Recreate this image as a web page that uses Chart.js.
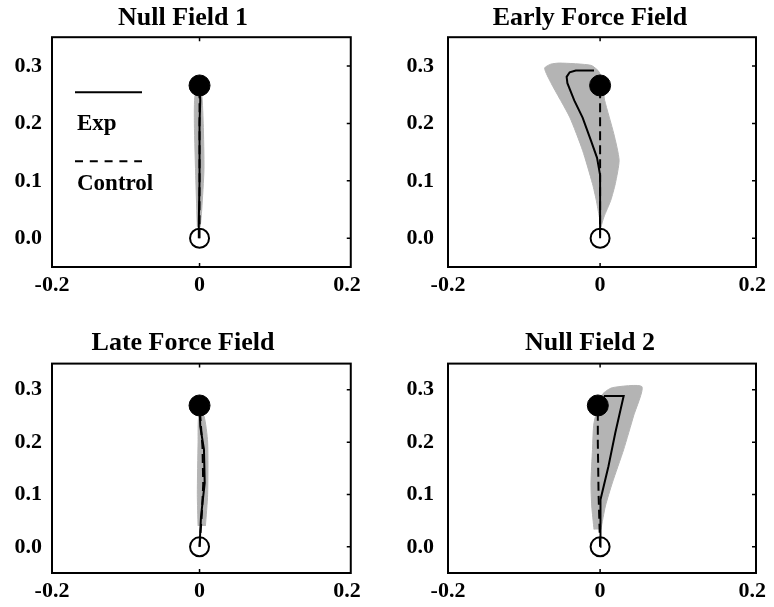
<!DOCTYPE html>
<html>
<head>
<meta charset="utf-8">
<script src="https://cdn.jsdelivr.net/npm/chart.js@4.4.1/dist/chart.umd.min.js"></script>
<style>
  html, body { margin: 0; padding: 0; background: #fff; overflow: hidden; width: 774px; height: 607px; }
  canvas { position: absolute; }
</style>
</head>
<body>
<canvas id="c0" width="366" height="300" style="left:0px;top:0px"></canvas>
<canvas id="c1" width="406" height="300" style="left:387px;top:0px"></canvas>
<canvas id="c2" width="366" height="282" style="left:0px;top:325px"></canvas>
<canvas id="c3" width="406" height="282" style="left:387px;top:325px"></canvas>
<script>
/* Datos */
const panelTitles = ["Null Field 1", "Early Force Field", "Late Force Field", "Null Field 2"];
const seriesLabels = ["Exp", "Control"];
const xTicks = [-0.2, 0, 0.2];
const yTicks = [0, 0.1, 0.2, 0.3];
const xRange = [-0.2, 0.205];
const yRange = [-0.05, 0.35];

// punto de inicio (círculo vacío) y objetivo (círculo lleno)
const startPoints = [[0, 0], [0, 0], [0, 0], [0, 0]];
const targetPoints = [[0, 0.266], [0, 0.266], [0, 0.27], [-0.003, 0.27]];

// Null Field 1
const nf1Exp = [[-0.001, 0], [-0.001, 0.03], [0, 0.1], [0, 0.2], [0.001, 0.24], [0, 0.266]];
const nf1Control = [[0, 0], [0, 0.266]];
const nf1Band = [[-0.003, 0.02], [-0.005, 0.1], [-0.007, 0.2], [-0.006, 0.25], [0.002, 0.26],
  [0.005, 0.2], [0.006, 0.12], [0.003, 0.05], [0.001, 0.02]];

// Early Force Field
const efExp = [[0, 0.005], [0, 0.06], [0, 0.11], [-0.004, 0.14], [-0.012, 0.17], [-0.023, 0.21],
  [-0.034, 0.24], [-0.043, 0.27], [-0.044, 0.281], [-0.04, 0.289], [-0.032, 0.292], [-0.008, 0.292]];
const efControl = [[0, 0], [0, 0.266]];
const efBand = [[-0.001, 0.037], [-0.005, 0.066], [-0.01, 0.095], [-0.023, 0.153], [-0.04, 0.211],
  [-0.064, 0.269], [-0.073, 0.296], [-0.065, 0.303], [-0.053, 0.305], [-0.012, 0.301],
  [-0.001, 0.289], [0.004, 0.26], [0.006, 0.24], [0.018, 0.182], [0.025, 0.136],
  [0.02, 0.095], [0.014, 0.066], [0.005, 0.037], [0.001, 0.019]];

// Late Force Field
const lfExp = [[0, 0], [0.001, 0.03], [0.002, 0.058], [0.007, 0.122], [0.006, 0.186], [0.001, 0.23], [0, 0.27]];
const lfControl = [[0, 0], [0.003, 0.06], [0.005, 0.12], [0.004, 0.19], [0, 0.27]];
const lfBand = [[-0.002, 0.04], [-0.003, 0.1], [-0.002, 0.2], [-0.001, 0.25], [0.006, 0.25],
  [0.011, 0.2], [0.011, 0.1], [0.008, 0.04]];

// Null Field 2
const nf2Exp = [[0, 0], [0, 0.03], [0.001, 0.09], [0.011, 0.154], [0.02, 0.218], [0.03, 0.282],
  [0.031, 0.288], [0.005, 0.288]];
const nf2Control = [[0, 0], [-0.002, 0.1], [-0.003, 0.2], [-0.003, 0.27]];
const nf2Band = [[-0.008, 0.033], [-0.011, 0.078], [-0.012, 0.122], [-0.01, 0.186], [-0.008, 0.237],
  [0.003, 0.291], [0.016, 0.304], [0.055, 0.306], [0.044, 0.25], [0.031, 0.186],
  [0.016, 0.122], [0.007, 0.078], [0.001, 0.033]];

const expPaths = [nf1Exp, efExp, lfExp, nf2Exp];
const controlPaths = [nf1Control, efControl, lfControl, nf2Control];
const bands = [nf1Band, efBand, lfBand, nf2Band];

/* Estilo y posición de cada panel */
const panelLayout = [
  { id: "c0", yW: 52, rW: 14, padT: 3, padB: 3, xH: 33, yPad: 10 },
  { id: "c1", yW: 61, rW: 37, padT: 3, padB: 3, xH: 33, yPad: 14 },
  { id: "c2", yW: 52, rW: 14, padT: 3, padB: 4.4, xH: 34, yPad: 10 },
  { id: "c3", yW: 61, rW: 37, padT: 3, padB: 4.4, xH: 34, yPad: 14 }
];

const GRAY = "rgb(180,180,180)";
const toXY = (pts) => pts.map((p) => ({ x: p[0], y: p[1] }));

Chart.defaults.font.family = "'Liberation Serif', 'Times New Roman', serif";
Chart.defaults.color = "#000";

// caja con marcas hacia adentro
const framePlugin = {
  id: "frame",
  afterDraw(chart) {
    const { ctx, chartArea: a, scales } = chart;
    ctx.save();
    ctx.strokeStyle = "#000";
    ctx.lineWidth = 2;
    ctx.strokeRect(a.left, a.top, a.right - a.left, a.bottom - a.top);
    ctx.lineWidth = 1.5;
    ctx.beginPath();
    yTicks.forEach((v) => {
      const y = scales.y.getPixelForValue(v);
      ctx.moveTo(a.right, y);
      ctx.lineTo(a.right - 4, y);
    });
    xTicks.slice(1, -1).forEach((v) => {
      const x = scales.x.getPixelForValue(v);
      ctx.moveTo(x, a.top);
      ctx.lineTo(x, a.top + 4);
      ctx.moveTo(x, a.bottom);
      ctx.lineTo(x, a.bottom - 4);
    });
    ctx.stroke();
    ctx.restore();
  }
};

// leyenda dentro del primer panel
const cornerLegend = {
  id: "cornerLegend",
  afterDraw(chart) {
    const { ctx, chartArea: a } = chart;
    const x0 = a.left + 23;
    const x1 = a.left + 90;
    ctx.save();
    ctx.strokeStyle = "#000";
    ctx.lineWidth = 2;
    ctx.beginPath();
    ctx.moveTo(x0, a.top + 55);
    ctx.lineTo(x1, a.top + 55);
    ctx.stroke();
    ctx.setLineDash([8, 6.8]);
    ctx.beginPath();
    ctx.moveTo(x0, a.top + 124);
    ctx.lineTo(x1, a.top + 124);
    ctx.stroke();
    ctx.setLineDash([]);
    ctx.fillStyle = "#000";
    ctx.font = "bold 23px 'Liberation Serif'";
    ctx.textBaseline = "alphabetic";
    ctx.fillText(seriesLabels[0], a.left + 25, a.top + 93);
    ctx.fillText(seriesLabels[1], a.left + 25, a.top + 153);
    ctx.restore();
  }
};

function makePanel(i) {
  const lay = panelLayout[i];
  const ctx = document.getElementById(lay.id).getContext("2d");
  new Chart(ctx, {
    type: "line",
    data: {
      datasets: [
        {
          label: "target",
          data: toXY([targetPoints[i]]),
          showLine: false,
          pointRadius: 10.5,
          pointBackgroundColor: "#000",
          pointBorderColor: "#000",
          pointBorderWidth: 1
        },
        {
          label: "start",
          data: toXY([startPoints[i]]),
          showLine: false,
          pointRadius: 9.5,
          pointBackgroundColor: "rgba(0,0,0,0)",
          pointBorderColor: "#000",
          pointBorderWidth: 2
        },
        {
          label: seriesLabels[0],
          data: toXY(expPaths[i]),
          borderColor: "#000",
          borderWidth: 2,
          pointRadius: 0,
          fill: false
        },
        {
          label: seriesLabels[1],
          data: toXY(controlPaths[i]),
          borderColor: "#000",
          borderWidth: 2,
          borderDash: [9, 5],
          pointRadius: 0,
          fill: false
        },
        {
          label: "band",
          data: toXY(bands[i]),
          borderColor: GRAY,
          borderWidth: 1,
          backgroundColor: GRAY,
          pointRadius: 0,
          tension: 0.2,
          fill: "shape"
        }
      ]
    },
    options: {
      responsive: false,
      devicePixelRatio: 1,
      animation: false,
      events: [],
      layout: { padding: 0 },
      plugins: {
        legend: { display: false },
        tooltip: { enabled: false },
        title: {
          display: true,
          text: panelTitles[i],
          font: { size: 26, weight: "bold" },
          padding: { top: lay.padT, bottom: lay.padB }
        }
      },
      scales: {
        x: {
          type: "linear",
          min: xRange[0],
          max: xRange[1],
          grid: { display: false, drawTicks: false },
          border: { display: false },
          afterBuildTicks: (s) => { s.ticks = xTicks.map((v) => ({ value: v })); },
          afterFit: (s) => { s.height = lay.xH; },
          ticks: {
            padding: 5,
            maxRotation: 0,
            autoSkip: false,
            font: { size: 22, weight: "bold" },
            callback: (v) => (v === 0 ? "0" : Number(v).toFixed(1))
          }
        },
        y: {
          type: "linear",
          min: yRange[0],
          max: yRange[1],
          grid: { display: false, drawTicks: false },
          border: { display: false },
          afterBuildTicks: (s) => { s.ticks = yTicks.map((v) => ({ value: v })); },
          afterFit: (s) => { s.width = lay.yW; },
          ticks: {
            padding: lay.yPad,
            autoSkip: false,
            font: { size: 22, weight: "bold" },
            callback: (v) => Number(v).toFixed(1)
          }
        },
        y2: {
          type: "linear",
          position: "right",
          display: true,
          grid: { display: false, drawTicks: false },
          border: { display: false },
          ticks: { display: false },
          afterFit: (s) => { s.width = lay.rW; }
        }
      }
    },
    plugins: i === 0 ? [framePlugin, cornerLegend] : [framePlugin]
  });
}

for (let i = 0; i < panelTitles.length; i++) {
  makePanel(i);
}
</script>
</body>
</html>
